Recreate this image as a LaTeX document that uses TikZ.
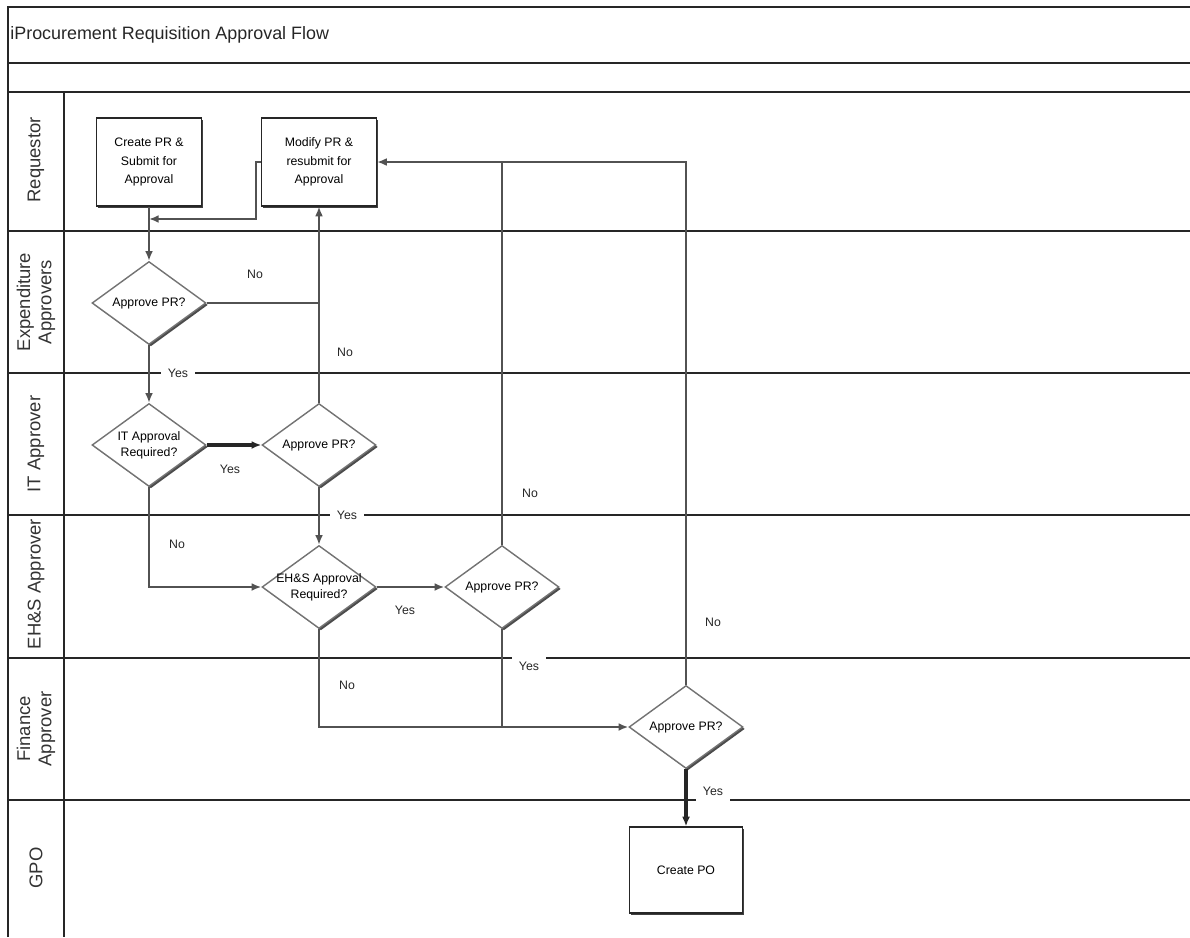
\documentclass[tikz,border=0pt]{standalone}
\usepackage{fontspec}
\setmainfont{Liberation Sans}
\usetikzlibrary{shapes.geometric,shadows,arrows.meta,positioning,calc}

\tikzset{
  procbox/.style={draw=black!85,line width=0.7pt,fill=white,minimum width=2.2cm,
    minimum height=1.76cm,align=center,font=\fontsize{7}{10.5}\selectfont,
    drop shadow={shadow xshift=1.1pt,shadow yshift=-1.1pt,fill=black!75,opacity=1}},
  decide/.style={diamond,draw=black!55,line width=0.8pt,fill=white,
    minimum width=2.28cm,minimum height=1.66cm,inner xsep=-8pt,inner ysep=-4pt,
    align=center,font=\fontsize{7}{9}\selectfont,
    drop shadow={shadow xshift=1.1pt,shadow yshift=-1.1pt,fill=black!70,opacity=1}},
  flow/.style={black!68,line width=1.4pt},
  bold/.style={black!85,line width=2.2pt},
  lane/.style={black!85,line width=0.8pt},
  lanename/.style={rotate=90,align=center,font=\fontsize{10.5}{12}\selectfont,text=black!80},
  tag/.style={font=\fontsize{7}{8}\selectfont,inner sep=1pt,text=black!85},
  gap/.style={tag,fill=white,inner xsep=4pt,inner ysep=4pt},
}

\begin{document}
\begin{tikzpicture}[x=0.02cm,y=-0.02cm,>={Latex[length=5.5pt,width=4.5pt]}]
  \useasboundingbox (0,0) rectangle (1190,937);

  % frame and swim lanes
  \draw[lane] (8,937) -- (8,7) -- (1190,7);
  \draw[lane] (8,63) -- (1190,63);
  \draw[lane] (8,92) -- (1190,92);
  \draw[lane] (64,92) -- (64,937);
  \foreach \y in {231,373,515,658,800}
    \draw[lane] (8,\y) -- (1190,\y);

  \node[anchor=west,inner sep=0pt,font=\fontsize{10.2}{12}\selectfont,text=black!85] (title) at (10,35) {iProcurement Requisition Approval Flow};

  \node[lanename] (l1) at (36,160) {Requestor};
  \node[lanename] (l2) at (36,302) {Expenditure\\Approvers};
  \node[lanename] (l3) at (36,444) {IT Approver};
  \node[lanename] (l4) at (36,584) {EH\&S Approver};
  \node[lanename] (l5) at (36,729) {Finance\\Approver};
  \node[lanename] (l6) at (36,868) {GPO};

  % steps
  \node[procbox,minimum width=2.1cm] (create) at (149,162) {Create PR \&\\Submit for\\Approval};
  \node[procbox,minimum width=2.3cm] (modify) at (319,162) {Modify PR \&\\resubmit for\\Approval};
  \node[decide] (expq) at (149,303) {Approve PR?};
  \node[decide] (itq) at (149,445) {IT Approval\\Required?};
  \node[decide] (itok) at (319,445) {Approve PR?};
  \node[decide] (ehsq) at (319,587) {EH\&S Approval\\Required?};
  \node[decide] (ehsok) at (502,587) {Approve PR?};
  \node[decide] (finok) at (686,727) {Approve PR?};
  \node[procbox,minimum width=2.26cm,minimum height=1.72cm] (po) at (686,870) {Create PO};

  \coordinate (back) at (149,219);

  % connectors
  \draw[flow,->] (create) -- (expq);
  \draw[flow,->] (modify.west) -- ++(-5,0) |- (back);
  \draw[flow] (expq.east) -- (expq.east -| itok.north);
  \draw[flow,->] (itok.north) -- (modify.south);
  \draw[flow,->] (expq) -- (itq);
  \draw[bold,->] (itq) -- (itok);
  \draw[flow,->] (itok) -- (ehsq);
  \draw[flow,->] (itq.south) |- (ehsq.west);
  \draw[flow,->] (ehsq) -- (ehsok);
  \draw[flow] (ehsok.north) -- (ehsok.north |- modify.east);
  \draw[flow,->] (finok.north) |- (modify.east);
  \draw[flow,->] (ehsq.south) |- (finok.west);
  \draw[flow] (ehsok.south) -- (ehsok.south |- finok.west);
  \draw[bold,->] (finok) -- (po);

  % branch labels
  \node[tag] (n1) at (255,274) {No};
  \node[tag] (n2) at (345,352) {No};
  \node[gap] (y1) at (178,373) {Yes};
  \node[tag] (y2) at (230,469) {Yes};
  \node[gap] (y3) at (347,515) {Yes};
  \node[tag] (n3) at (177,544) {No};
  \node[tag] (y4) at (405,610) {Yes};
  \node[tag] (n4) at (530,493) {No};
  \node[tag] (n5) at (347,685) {No};
  \node[gap] (y5) at (529,666) {Yes};
  \node[tag] (n6) at (713,622) {No};
  \node[gap] (y6) at (713,791) {Yes};
\end{tikzpicture}
\end{document}
